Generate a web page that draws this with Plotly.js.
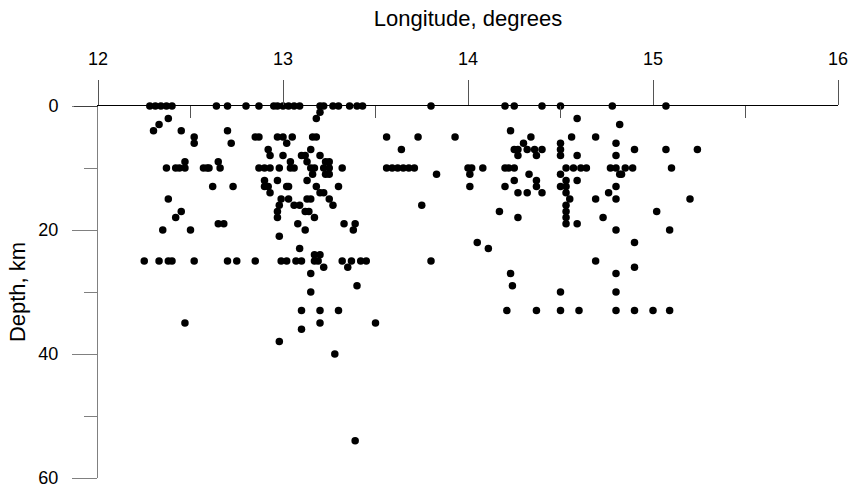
<!DOCTYPE html>
<html>
<head>
<meta charset="utf-8">
<script src="https://cdn.plot.ly/plotly-3.0.1.min.js"></script>
<style>html,body{margin:0;padding:0;background:#fff;}#chart{width:851px;height:489px;}</style>
</head>
<body>
<div id="chart"></div>
<script>
// Depth levels (km) and the longitudes (degrees) of the events read at each level
const depthLevels = [0, 1, 2, 3, 4, 5, 6, 7, 8, 9, 10, 11, 12, 13, 14, 15, 16, 17, 18, 19, 20,
                     21, 22, 23, 24, 25, 26, 27, 29, 30, 33, 35, 36, 38, 40, 54];
const longitudeByLevel = [
  [12.28,12.31,12.34,12.37,12.40,12.64,12.70,12.80,12.87,12.95,12.97,13.00,13.03,13.06,13.09,13.20,13.22,13.27,13.30,13.36,13.40,13.43,13.80,14.20,14.25,14.40,14.50,14.78,15.07],
  [13.20],
  [12.38,13.18,14.59],
  [12.33,14.82],
  [12.30,12.45,12.70,14.23],
  [12.52,12.85,12.87,12.97,13.00,13.05,13.16,13.18,13.56,13.73,13.93,14.34,14.56,14.69],
  [12.52,12.72,13.02,14.30,14.50,14.80],
  [12.92,13.15,13.64,14.25,14.27,14.32,14.36,14.40,14.50,14.90,15.07,15.24],
  [12.93,13.00,13.10,13.12,13.20,14.27,14.37,14.50,14.59,14.80],
  [12.47,12.65,13.04,13.13,13.23,13.25],
  [12.37,12.42,12.44,12.47,12.57,12.59,12.60,12.66,12.87,12.90,12.93,12.98,13.04,13.06,13.15,13.17,13.22,13.25,13.32,13.56,13.59,13.62,13.65,13.68,13.71,14.00,14.02,14.08,14.20,14.22,14.25,14.53,14.57,14.61,14.64,14.77,14.80,14.85,14.89,15.10],
  [13.16,13.23,13.25,13.83,14.01,14.33,14.50,14.82,14.83],
  [12.90,12.97,13.13,14.25,14.37,14.53,14.59],
  [12.62,12.73,12.90,12.92,13.02,13.03,13.18,13.30,14.01,14.20,14.37,14.50,14.53,14.80],
  [12.93,13.20,13.22,14.27,14.32,14.40,14.53,14.76],
  [12.38,12.99,13.03,13.13,13.15,13.25,14.55,14.69,14.80,15.20],
  [12.98,13.06,13.09,13.27,13.75,14.53],
  [12.45,12.97,13.12,13.14,14.17,14.53,15.02],
  [12.42,12.97,13.17,14.27,14.53,14.73],
  [12.65,12.68,13.08,13.33,13.39,14.53,14.59],
  [12.35,12.50,13.12,13.38,14.80,15.09],
  [12.98],
  [14.05,14.90],
  [13.09,14.11],
  [13.17,13.20],
  [12.25,12.33,12.38,12.40,12.52,12.70,12.75,12.85,12.99,13.02,13.07,13.10,13.17,13.19,13.32,13.37,13.42,13.45,13.80,14.69],
  [13.22,13.35,14.90],
  [13.15,14.23,14.80],
  [13.40,14.24],
  [13.15,14.50,14.80],
  [13.10,13.20,13.30,14.21,14.37,14.50,14.60,14.80,14.90,15.00,15.09],
  [12.47,13.20,13.50],
  [13.10],
  [12.98],
  [13.28],
  [13.39]
];

// Axis ticks
const xMajorTicks = [12, 13, 14, 15, 16];
const xMinorTicks = [12.5, 13.5, 14.5, 15.5];
const yMajorTicks = [0, 20, 40, 60];
const yMinorTicks = [10, 30, 50];

const xs = [], ys = [];
depthLevels.forEach(function (d, i) {
  longitudeByLevel[i].forEach(function (lon) { xs.push(lon); ys.push(d); });
});

const trace = {
  type: 'scatter', mode: 'markers', x: xs, y: ys,
  marker: {size: 7.5, color: '#000'},
  cliponaxis: false,
  hovertemplate: 'Longitude %{x}<br>Depth %{y} km<extra></extra>'
};

const layout = {
  width: 851, height: 489,
  margin: {l: 98, r: 13, t: 106, b: 11, pad: 0},
  paper_bgcolor: '#fff', plot_bgcolor: '#fff',
  showlegend: false,
  font: {family: 'Liberation Sans, Arial, sans-serif', size: 18, color: '#000'},
  xaxis: {
    range: [12, 16], side: 'top', showgrid: false, zeroline: false,
    showline: true, linecolor: '#000', linewidth: 1,
    tickmode: 'array', tickvals: xMajorTicks, ticktext: xMajorTicks.map(String),
    ticks: 'outside', ticklen: 25, tickwidth: 1, tickcolor: '#555',
    ticklabelstandoff: 8,
    minor: {tickmode: 'array', tickvals: xMinorTicks, ticks: 'inside', ticklen: 12, tickwidth: 1, tickcolor: '#555'},
    title: {text: 'Longitude, degrees', standoff: 16},
    fixedrange: true
  },
  yaxis: {
    range: [60, 0], showgrid: false, zeroline: false,
    showline: true, linecolor: '#808080', linewidth: 1,
    tickmode: 'array', tickvals: yMajorTicks, ticktext: yMajorTicks.map(String),
    ticks: 'outside', ticklen: 25, tickwidth: 1, tickcolor: '#808080',
    ticklabelstandoff: 10,
    minor: {tickmode: 'array', tickvals: yMinorTicks, ticks: 'outside', ticklen: 13, tickwidth: 1, tickcolor: '#808080'},
    title: {text: 'Depth, km', standoff: 6},
    fixedrange: true
  },
  shapes: [{
    type: 'line', xref: 'paper', yref: 'y',
    x0: -24 / 740, x1: 0, y0: 0, y1: 0,
    line: {color: '#000', width: 1}
  }]
};

Plotly.newPlot('chart', [trace], layout, {displayModeBar: false});
</script>
</body>
</html>
